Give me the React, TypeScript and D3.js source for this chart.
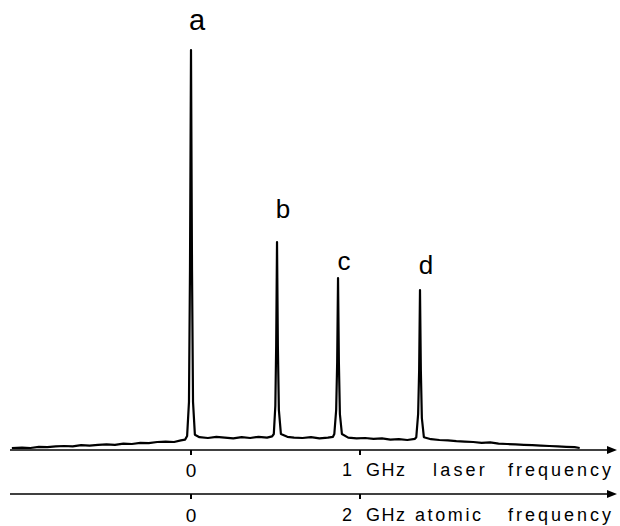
import React from "react";
import * as d3 from "d3";

// Spectrum trace: laser detuning (GHz) and signal (arbitrary units, peak a = 100)
const freqGHz: number[] = [
  -1.06, -1.0, -0.95, -0.9, -0.85, -0.8, -0.75, -0.7, -0.65, -0.6, -0.55, -0.5, -0.45, -0.4, -0.35, -0.3, -0.25, -0.2, -0.15, -0.1, -0.06, -0.035,
  -0.023, -0.012, -0.006, 0, 0.006, 0.012, 0.023,
  0.05, 0.1, 0.15, 0.2, 0.25, 0.3, 0.35, 0.4, 0.45, 0.48,
  0.49, 0.499, 0.504, 0.509, 0.514, 0.52, 0.532,
  0.57, 0.61, 0.66, 0.71, 0.76, 0.81, 0.84,
  0.848, 0.859, 0.865, 0.87, 0.875, 0.881, 0.893,
  0.93, 0.98, 1.03, 1.08, 1.13, 1.18, 1.23, 1.28, 1.325,
  1.333, 1.344, 1.35, 1.355, 1.36, 1.366, 1.378,
  1.42, 1.47, 1.52, 1.57, 1.62, 1.67, 1.72, 1.77, 1.82, 1.87, 1.92, 1.97, 2.02, 2.07, 2.12, 2.17, 2.22, 2.27, 2.3,
];
const signal: number[] = [
  0.5, 0.6, 0.5, 0.8, 0.7, 0.9, 1.0, 0.9, 1.2, 1.1, 1.3, 1.4, 1.3, 1.6, 1.5, 1.8, 1.7, 2.0, 2.1, 2.0, 2.4, 2.6,
  3.5, 12, 45, 100, 45, 12, 3.8,
  3.2, 3.0, 3.3, 3.1, 2.9, 3.2, 3.0, 3.3, 3.1, 3.4,
  4, 11, 26, 52, 26, 10, 4,
  3.3, 3.1, 3.0, 3.2, 2.9, 3.1, 3.3,
  4, 10, 22, 43, 22, 9, 4,
  3.1, 2.9, 3.0, 2.8, 2.9, 2.6, 2.7, 2.5, 2.8,
  3.2, 9, 20, 40, 20, 8, 3.2,
  2.7, 2.5, 2.4, 2.2, 2.1, 2.0, 1.8, 1.9, 1.6, 1.5, 1.4, 1.3, 1.2, 1.1, 1.0, 0.9, 0.8, 0.7, 0.5,
];

const peakLabels: string[] = ["a", "b", "c", "d"];
const peakFreq: number[] = [0, 0.509, 0.87, 1.355];
const peakLabelHeight: number[] = [105, 58, 45, 44];

const laserTicks: number[] = [0, 1];
const atomicTicks: number[] = [0, 2];

export default function App() {
  const W = 620;
  const H = 526;
  const xLaser = d3.scaleLinear().domain([0, 1]).range([191, 360]);
  const xAtomic = d3.scaleLinear().domain([0, 2]).range([191, 360]);
  const y = d3.scaleLinear().domain([0, 100]).range([450, 50]);

  const pts: [number, number][] = freqGHz.map((f, i) => [f, signal[i]]);
  const line = d3
    .line<[number, number]>()
    .x((d) => xLaser(d[0]))
    .y((d) => y(d[1]));

  const axis1Y = 450;
  const axis2Y = 494;
  const axisX0 = 10;
  const axisX1 = 617;
  const font = "'Liberation Sans', Arial, sans-serif";

  const arrow = (ay: number) => (
    <g>
      <line x1={axisX0} x2={axisX1 - 6} y1={ay} y2={ay} stroke="#000" strokeWidth={1.6} />
      <path d={`M${axisX1},${ay} L${axisX1 - 10},${ay - 4} L${axisX1 - 10},${ay + 4} Z`} fill="#000" />
    </g>
  );

  return (
    <svg
      width={W}
      height={H}
      style={{ position: "absolute", left: 0, top: 0, background: "#fff" }}
      fontFamily={font}
    >
      <rect width={W} height={H} fill="#fff" />
      <path d={line(pts) || ""} fill="none" stroke="#000" strokeWidth={2.2} strokeLinejoin="round" />

      {peakLabels.map((l, i) => (
        <text
          key={l}
          x={xLaser(peakFreq[i]) + 6}
          y={y(peakLabelHeight[i])}
          fontSize={i === 0 ? 29 : 26}
          textAnchor="middle"
          fill="#000"
        >
          {l}
        </text>
      ))}

      {arrow(axis1Y)}
      {laserTicks.map((t) => (
        <line key={"lt" + t} x1={xLaser(t)} x2={xLaser(t)} y1={axis1Y} y2={axis1Y + 5} stroke="#000" strokeWidth={2} />
      ))}
      <text x={xLaser(0)} y={477} fontSize={19} textAnchor="middle">0</text>
      <text x={xLaser(1) - 13} y={476} fontSize={18} textAnchor="middle">1</text>
      <text x={366} y={476} fontSize={18} letterSpacing={1.5}>GHz</text>
      <text x={433} y={476} fontSize={18} letterSpacing={3.2}>laser</text>
      <text x={614} y={476} fontSize={18} letterSpacing={3} textAnchor="end">frequency</text>

      {arrow(axis2Y)}
      {atomicTicks.map((t) => (
        <line key={"at" + t} x1={xAtomic(t)} x2={xAtomic(t)} y1={axis2Y} y2={axis2Y + 5} stroke="#000" strokeWidth={2} />
      ))}
      <text x={xAtomic(0)} y={522} fontSize={19} textAnchor="middle">0</text>
      <text x={xAtomic(2) - 13} y={521} fontSize={18} textAnchor="middle">2</text>
      <text x={366} y={521} fontSize={18} letterSpacing={1.5}>GHz</text>
      <text x={415} y={521} fontSize={18} letterSpacing={2.6}>atomic</text>
      <text x={614} y={521} fontSize={18} letterSpacing={3} textAnchor="end">frequency</text>
    </svg>
  );
}
